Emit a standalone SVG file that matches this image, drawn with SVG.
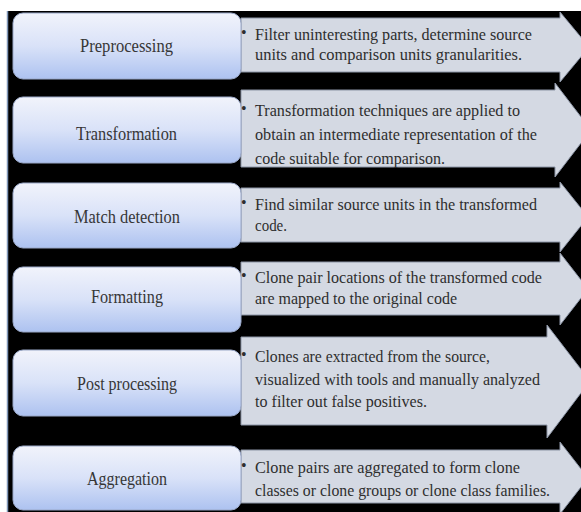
<svg xmlns="http://www.w3.org/2000/svg" width="581" height="512" viewBox="0 0 581 512">
<defs>
<linearGradient id="boxg" x1="0" y1="0" x2="0" y2="1">
<stop offset="0" stop-color="#f1f3fb"/>
<stop offset="0.5" stop-color="#d9e2f8"/>
<stop offset="1" stop-color="#adc2f0"/>
</linearGradient>
</defs>
<style>
text{font-family:"Liberation Serif","Times New Roman",serif}
.box{fill:url(#boxg);stroke:#9aa8c8;stroke-width:1}
.arr{fill:#d4d9e3;stroke:#8c95a6;stroke-width:1}
.lbl{font-size:18.5px;fill:#363636}
.txt{font-size:17px;fill:#2e2e2e}
.bul{font-size:16px;fill:#2e2e2e}
</style>
<rect x="0" y="0" width="581" height="512" fill="#ffffff"/>
<rect x="7" y="11" width="574" height="501" fill="#000000"/>
<line x1="7.5" y1="11" x2="7.5" y2="512" stroke="#7f96b8" stroke-width="1.5"/>

<g id="preprocessing">
<polygon class="arr" points="241,18 560,18 560,12 589,47 560,82 560,72 241,72"/>
<rect class="box" x="13" y="13" width="228" height="66" rx="10"/>
<text class="lbl" x="80" y="52" textLength="93" lengthAdjust="spacingAndGlyphs">Preprocessing</text>
<text class="bul" x="241" y="38">•</text>
<text class="txt" x="255" y="40" textLength="277" lengthAdjust="spacingAndGlyphs">Filter uninteresting parts, determine source</text>
<text class="txt" x="255" y="60" textLength="267" lengthAdjust="spacingAndGlyphs">units and comparison units granularities.</text>
</g>

<g id="transformation">
<polygon class="arr" points="241,90 555,90 555,83 591,130 555,177 555,167 241,167"/>
<rect class="box" x="13" y="97" width="228" height="66" rx="10"/>
<text class="lbl" x="76" y="140" textLength="101" lengthAdjust="spacingAndGlyphs">Transformation</text>
<text class="bul" x="241" y="114">•</text>
<text class="txt" x="255" y="116" textLength="265" lengthAdjust="spacingAndGlyphs">Transformation techniques are applied to</text>
<text class="txt" x="255" y="140" textLength="282" lengthAdjust="spacingAndGlyphs">obtain an intermediate representation of the</text>
<text class="txt" x="255" y="164" textLength="190" lengthAdjust="spacingAndGlyphs">code suitable for comparison.</text>
</g>

<g id="match-detection">
<polygon class="arr" points="241,188 560,188 560,182 588,217 560,252 560,242 241,242"/>
<rect class="box" x="13" y="183" width="228" height="65" rx="10"/>
<text class="lbl" x="74" y="223" textLength="106" lengthAdjust="spacingAndGlyphs">Match detection</text>
<text class="bul" x="241" y="208">•</text>
<text class="txt" x="255" y="210" textLength="282" lengthAdjust="spacingAndGlyphs">Find similar source units in the transformed</text>
<text class="txt" x="255" y="231" textLength="32" lengthAdjust="spacingAndGlyphs">code.</text>
</g>

<g id="formatting">
<polygon class="arr" points="241,262 560,262 560,253 588,289 560,325 560,315 241,315"/>
<rect class="box" x="13" y="267" width="228" height="65" rx="10"/>
<text class="lbl" x="91" y="303" textLength="72" lengthAdjust="spacingAndGlyphs">Formatting</text>
<text class="bul" x="241" y="281">•</text>
<text class="txt" x="255" y="283" textLength="287" lengthAdjust="spacingAndGlyphs">Clone pair locations of the transformed code</text>
<text class="txt" x="255" y="304" textLength="202" lengthAdjust="spacingAndGlyphs">are mapped to the original code</text>
</g>

<g id="post-processing">
<polygon class="arr" points="241,337 547,337 547,325 590,381 547,438 547,425 241,425"/>
<rect class="box" x="13" y="350" width="228" height="66" rx="10"/>
<text class="lbl" x="77" y="390" textLength="100" lengthAdjust="spacingAndGlyphs">Post processing</text>
<text class="bul" x="241" y="360">•</text>
<text class="txt" x="255" y="362" textLength="235" lengthAdjust="spacingAndGlyphs">Clones are extracted from the source,</text>
<text class="txt" x="255" y="385" textLength="285" lengthAdjust="spacingAndGlyphs">visualized with tools and manually analyzed</text>
<text class="txt" x="255" y="407" textLength="172" lengthAdjust="spacingAndGlyphs">to filter out false positives.</text>
</g>

<g id="aggregation">
<polygon class="arr" points="241,450 560,450 560,442 588,478 560,514 560,503 241,503"/>
<rect class="box" x="13" y="446" width="228" height="64" rx="10"/>
<text class="lbl" x="87" y="485" textLength="80" lengthAdjust="spacingAndGlyphs">Aggregation</text>
<text class="bul" x="241" y="471">•</text>
<text class="txt" x="255" y="473" textLength="265" lengthAdjust="spacingAndGlyphs">Clone pairs are aggregated to form clone</text>
<text class="txt" x="255" y="496" textLength="295" lengthAdjust="spacingAndGlyphs">classes or clone groups or clone class families.</text>
</g>

<g id="connectors"></g>
</svg>
